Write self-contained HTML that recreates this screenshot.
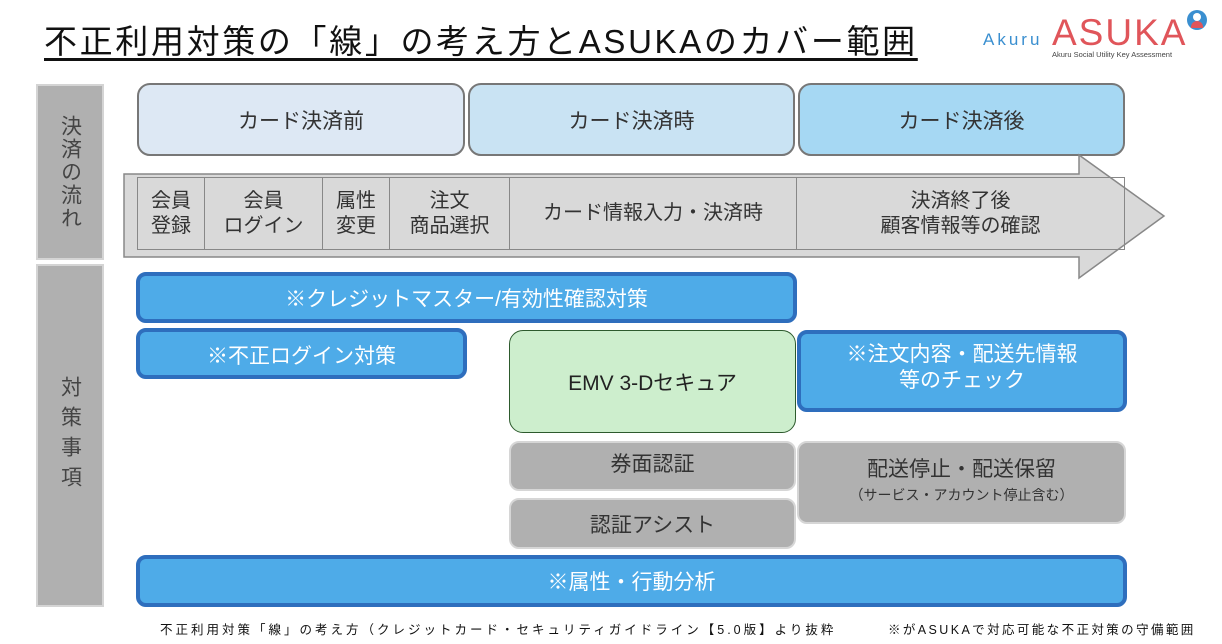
<!DOCTYPE html>
<html><head><meta charset="utf-8"><style>
body{margin:0;width:1222px;height:644px;background:#fff;position:relative;overflow:hidden;font-family:"Liberation Sans","Noto Sans CJK JP",sans-serif;color:#333}
.a{position:absolute;box-sizing:border-box;display:flex;align-items:center;justify-content:center;text-align:center}
.side{background:#b0b0b0;border:2px solid #d4d4d4;color:#444;font-size:21px;line-height:25px;writing-mode:vertical-rl;letter-spacing:2px}
.hd{border:2px solid #777;border-radius:13px;font-size:21px;color:#333}
.bl{background:#4eabe8;border:4px solid #2e6ebd;border-radius:10px;color:#fff;font-size:21px}
.gr{background:#b0b0b0;border:2px solid #d6d6d6;border-radius:10px;font-size:21px;color:#333}
.cell{position:absolute;top:177px;height:73px;box-sizing:border-box;border:1.5px solid #888;display:flex;align-items:center;justify-content:center;text-align:center;font-size:20px;line-height:25px;color:#333}
</style></head><body>
<div style="position:absolute;left:44px;top:15px;font-size:33px;color:#111;text-decoration:underline;text-underline-offset:5px;letter-spacing:2.65px;white-space:nowrap">不正利用対策の「線」の考え方とASUKAのカバー範囲</div>
<div style="position:absolute;left:983px;top:30px;font-size:17px;color:#3a8fd0;letter-spacing:3px">Akuru</div>
<div style="position:absolute;left:1052px;top:14px;font-size:37px;color:#e0555a;letter-spacing:2px;line-height:38px">ASUKA</div>
<div style="position:absolute;left:1052px;top:50px;font-size:7.5px;color:#444">Akuru Social Utility Key Assessment</div>
<div style="position:absolute;left:1187px;top:10px;width:20px;height:20px;border-radius:50%;background:#3a8fd0"></div>
<div style="position:absolute;left:1193px;top:13px;width:8px;height:8px;border-radius:50%;background:#fff"></div>
<div style="position:absolute;left:1191px;top:21px;width:12px;height:7px;border-radius:6px 6px 0 0;background:#e0555a"></div>

<div class="a side" style="left:36px;top:84px;width:68px;height:176px">決済の流れ</div>
<div class="a side" style="left:36px;top:264px;width:68px;height:343px;letter-spacing:9px">対策事項</div>

<div class="a hd" style="left:137px;top:83px;width:328px;height:73px;background:#dde8f4">カード決済前</div>
<div class="a hd" style="left:468px;top:83px;width:327px;height:73px;background:#c9e3f3">カード決済時</div>
<div class="a hd" style="left:798px;top:83px;width:327px;height:73px;background:#a6d8f3">カード決済後</div>

<svg style="position:absolute;left:0;top:0" width="1222" height="644"><polygon points="124,174 1079,174 1079,155 1164,216 1079,278 1079,257 124,257" fill="#d9d9d9" stroke="#888" stroke-width="1.5"/></svg>
<div class="cell" style="left:137px;width:68px">会員<br>登録</div>
<div class="cell" style="left:204px;width:119px">会員<br>ログイン</div>
<div class="cell" style="left:322px;width:68px">属性<br>変更</div>
<div class="cell" style="left:389px;width:121px">注文<br>商品選択</div>
<div class="cell" style="left:509px;width:288px">カード情報入力・決済時</div>
<div class="cell" style="left:796px;width:329px">決済終了後<br>顧客情報等の確認</div>

<div class="a bl" style="left:136px;top:272px;width:661px;height:51px">※クレジットマスター/有効性確認対策</div>
<div class="a bl" style="left:136px;top:328px;width:331px;height:51px;align-items:flex-start;padding-top:8px">※不正ログイン対策</div>
<div class="a" style="left:509px;top:330px;width:287px;height:103px;background:#cdeecd;border:1.5px solid #2d5a2d;border-radius:14px;font-size:21px;color:#222">EMV 3-Dセキュア</div>
<div class="a bl" style="left:797px;top:330px;width:330px;height:82px;line-height:26px;padding-bottom:6px">※注文内容・配送先情報<br>等のチェック</div>
<div class="a gr" style="left:509px;top:441px;width:287px;height:50px;padding-bottom:6px">券面認証</div>
<div class="a gr" style="left:509px;top:498px;width:287px;height:51px">認証アシスト</div>
<div class="a gr" style="left:797px;top:441px;width:329px;height:83px;flex-direction:column;padding-bottom:8px"><div>配送停止・配送保留</div><div style="font-size:14px;margin-top:2px">（サービス・アカウント停止含む）</div></div>
<div class="a bl" style="left:136px;top:555px;width:991px;height:52px">※属性・行動分析</div>

<div style="position:absolute;left:160px;top:619px;font-size:12.5px;color:#111;white-space:nowrap;letter-spacing:3px">不正利用対策「線」の考え方（クレジットカード・セキュリティガイドライン【5.0版】より抜粋</div>
<div style="position:absolute;left:888px;top:619px;font-size:12.5px;color:#111;white-space:nowrap;letter-spacing:2.4px">※がASUKAで対応可能な不正対策の守備範囲</div>
</body></html>
